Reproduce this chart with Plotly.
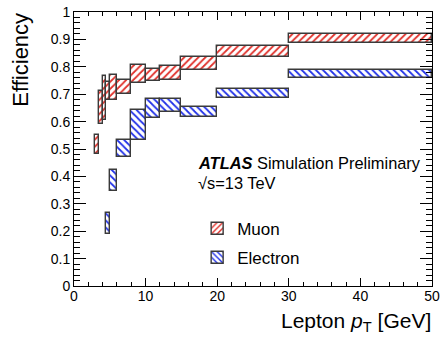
import plotly.graph_objects as go

# Muon efficiency bins
muon_lo_edge = [3, 3.5, 4, 4.5, 5, 6, 8, 10, 12, 15, 20, 30]
muon_hi_edge = [3.5, 4, 4.5, 5, 6, 8, 10, 12, 15, 20, 30, 50]
muon_eff_low = [0.48, 0.59, 0.605, 0.68, 0.68, 0.70, 0.74, 0.75, 0.752, 0.788, 0.836, 0.886]
muon_eff_high = [0.55, 0.71, 0.765, 0.746, 0.77, 0.752, 0.805, 0.791, 0.803, 0.835, 0.877, 0.919]

# Electron efficiency bins
ele_lo_edge = [4.5, 5, 6, 8, 10, 12, 15, 20, 30]
ele_hi_edge = [5, 6, 8, 10, 12, 15, 20, 30, 50]
ele_eff_low = [0.19, 0.346, 0.472, 0.533, 0.612, 0.635, 0.616, 0.687, 0.76]
ele_eff_high = [0.265, 0.423, 0.533, 0.642, 0.682, 0.682, 0.654, 0.718, 0.788]

FONT = "Liberation Sans, Arial, Helvetica, sans-serif"


def bar_args(lo_e, hi_e, lo, hi):
    x = [(a + b) / 2 for a, b in zip(lo_e, hi_e)]
    w = [b - a for a, b in zip(lo_e, hi_e)]
    h = [b - a for a, b in zip(lo, hi)]
    return dict(x=x, width=w, base=lo, y=h)


fig = go.Figure()
fig.add_trace(go.Bar(
    name="Muon", legendgroup="m",
    **bar_args(muon_lo_edge, muon_hi_edge, muon_eff_low, muon_eff_high),
    marker=dict(color="white", line=dict(color="#3a3a3a", width=1.4),
                pattern=dict(shape="/", fgcolor="#e0302a", bgcolor="white", size=5, solidity=0.35)),
))
fig.add_trace(go.Bar(
    name="Electron", legendgroup="e",
    **bar_args(ele_lo_edge, ele_hi_edge, ele_eff_low, ele_eff_high),
    marker=dict(color="white", line=dict(color="#3a3a3a", width=1.4),
                pattern=dict(shape="\\", fgcolor="#2030e8", bgcolor="white", size=5, solidity=0.35)),
))

axis_common = dict(
    showline=True, linecolor="black", linewidth=1, mirror="allticks",
    ticks="inside", tickcolor="black", tickwidth=1,
    showgrid=False, zeroline=False, automargin=False,
    tickfont=dict(family=FONT, size=14, color="black"),
)

fig.update_layout(
    template="none",
    width=441, height=339,
    margin=dict(l=74, r=9, t=12, b=53, autoexpand=False),
    paper_bgcolor="white", plot_bgcolor="white",
    barmode="overlay", bargap=0,
    font=dict(family=FONT, color="black"),
    xaxis=dict(range=[0, 50], tick0=0, dtick=10, ticklen=8, ticklabelstandoff=-3,
               minor=dict(dtick=2, ticklen=4, ticks="inside", tickcolor="black", showgrid=False),
               **axis_common),
    yaxis=dict(range=[0, 1], tick0=0, dtick=0.1, ticklen=12,
               minor=dict(dtick=0.02, ticklen=6, ticks="inside", tickcolor="black", showgrid=False),
               **axis_common),
    legend=dict(x=0.344, y=0.275, xanchor="left", yanchor="top",
                font=dict(family=FONT, size=17, color="black"),
                bgcolor="rgba(0,0,0,0)", tracegroupgap=4),
    showlegend=True,
)

fig.add_annotation(text="<b><i>ATLAS</i></b> Simulation Preliminary",
                   xref="paper", yref="paper", x=0.341, y=0.449,
                   xanchor="left", yanchor="middle", showarrow=False,
                   font=dict(family=FONT, size=16.4, color="black"))
fig.add_annotation(text="√s=13 TeV",
                   xref="paper", yref="paper", x=0.341, y=0.376,
                   xanchor="left", yanchor="middle", showarrow=False,
                   font=dict(family=FONT, size=16.4, color="black"))
fig.add_annotation(text="Efficiency", textangle=-90,
                   xref="paper", yref="paper", x=-0.148, y=1.005,
                   xanchor="center", yanchor="top", showarrow=False,
                   font=dict(family=FONT, size=22, color="black"))
fig.add_annotation(text="Lepton <i>p</i><sub>T</sub> [GeV]",
                   xref="paper", yref="paper", x=1.003, y=-0.131,
                   xanchor="right", yanchor="middle", showarrow=False,
                   font=dict(family=FONT, size=21, color="black"))

fig.write_html("out.html")
